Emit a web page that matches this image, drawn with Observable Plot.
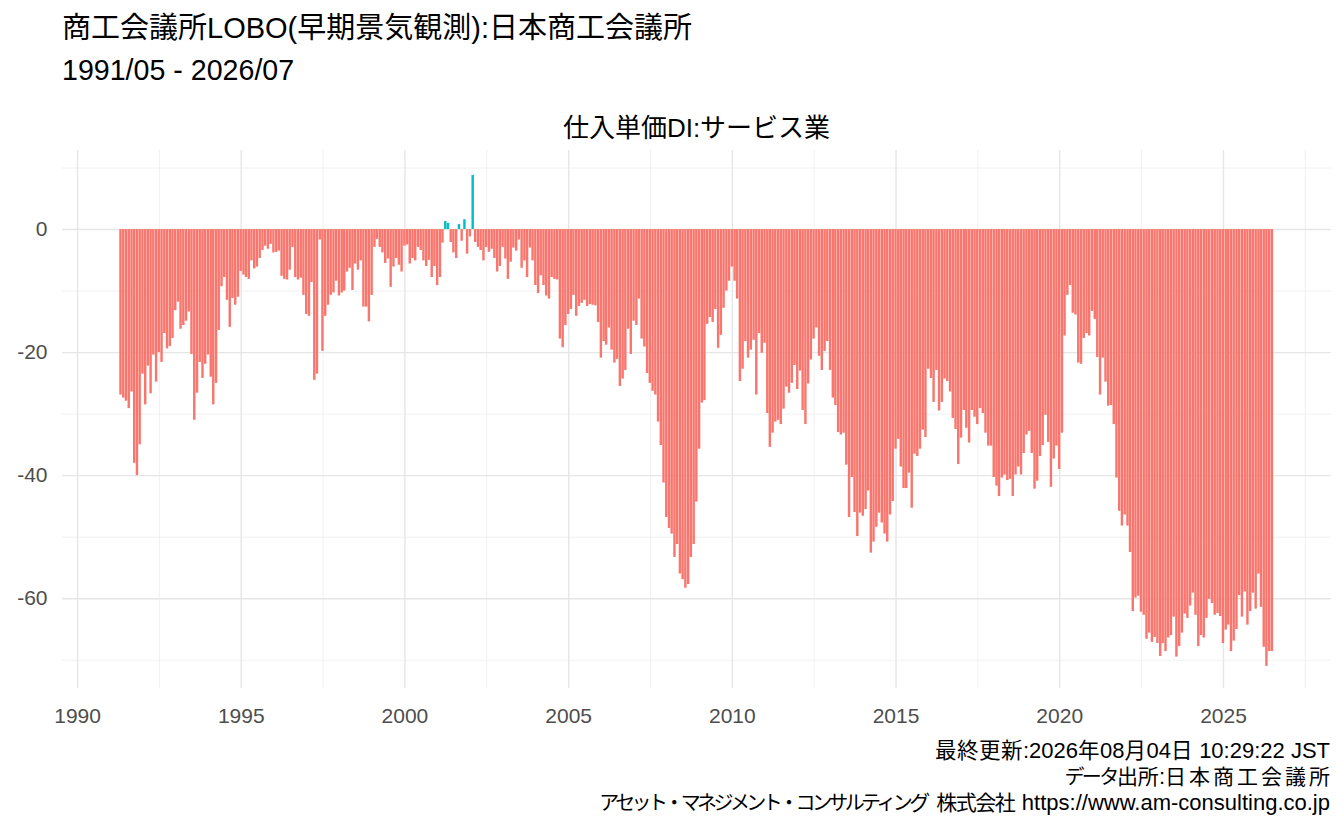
<!DOCTYPE html>
<html><head><meta charset="utf-8">
<script src="https://cdn.jsdelivr.net/npm/d3@7"></script>
<script src="https://cdn.jsdelivr.net/npm/@observablehq/plot@0.6"></script>
<style>
body{margin:0;background:#fff;font-family:"Liberation Sans","Noto Sans CJK JP",sans-serif;}
#wrap{position:relative;width:1344px;height:830px;overflow:hidden;}
.t{position:absolute;white-space:nowrap;line-height:1;color:#000;}
.k{font-size:21.5px;letter-spacing:0.5px;}
.kn{font-size:20px;letter-spacing:-3.6px;}
.kd{font-size:20px;letter-spacing:-2.5px;}
.ks{font-size:21px;letter-spacing:3px;}
.kc{font-size:21px;letter-spacing:-1.5px;}
.kp{font-size:21px;}
</style></head><body>
<div id="wrap">
<div class="t" style="left:62px;top:14px;font-size:29px;">商工会議所LOBO(早期景気観測):日本商工会議所</div>
<div class="t" style="left:62px;top:56px;font-size:28.6px;">1991/05 - 2026/07</div>
<div class="t" style="left:62px;width:1269px;text-align:center;top:115px;font-size:26px;">仕入単価DI:サービス業</div>
<div id="chart" style="position:absolute;left:0;top:140px;"></div>
<div class="t" style="right:14px;top:738px;font-size:22px;line-height:26px;text-align:right;"><span class="k">最終更新</span>:2026<span class="k">年</span>08<span class="k">月</span>04<span class="k">日</span> 10:29:22 JST<br><span class="kd">データ</span><span class="kp">出所</span>:<span class="ks">日本商工会議</span><span class="kp">所</span><br><span class="kn">アセット・マネジメント・コンサルティン</span><span class="kp">グ</span> <span class="kc">株式会</span><span class="kp">社</span> https://www.am-consulting.co.jp</div>
</div>
<script>
const startYear = 1991, startMonth = 5;
const values = [
-26.9,-27.4,-27.9,-29.1,-26.4,-38,-40,-35,-23.5,-28.5,
-22.2,-26.7,-20.4,-24.8,-20,-21.6,-16.9,-19.4,-19,-17.7,
-13.2,-11.8,-16.2,-15.6,-14.9,-13.4,-20.3,-31,-26.6,-21.6,
-24.2,-21.9,-20.4,-24,-28.5,-25,-16.4,-9.3,-7.8,-11.5,
-15.9,-11.2,
-12.3,-11,-6.8,-7.4,-7.8,-8.1,-5.1,-6.4,-6.1,-4.7,
-3.4,-2.7,-3.2,-2.4,-3.8,-3.7,-3.5,-7.6,-8.1,-8.2,
-6.6,-2.9,-7.8,-8.2,-7.9,-10.7,-13.8,-14.1,-8.6,-24.5,
-23.5,-1.7,-19.8,-14.1,-12.3,-10.7,-10.3,-8.4,-10.8,-10.3,
-10,-6.9,-6.3,
-9.9,-5.6,-6.6,-5.1,-12.6,-12.6,-15,-10.7,-2.9,-1.6,
-2.9,-3.8,-5.5,-4.8,-9.4,-6.1,-4.7,-5.8,-6.9,-2.7,
-2.5,-5.6,-4.7,-5.1,-2.9,-3.4,-5.1,-6,-5,-7.8,
-6,-9.1,-7.8,-2.2,1.3,1.0,-2.1,-3.8,-4.7,0.8,
-1.9,1.6,-4,
-1.2,8.8,-2.1,-2.9,-3.4,-5.1,-2.9,-3.7,-3.2,-4.7,
-6.9,-6,-2.9,-4.8,-8.1,-5.3,-3,-3.5,-1.7,-6.3,
-5.1,-7.8,-3,-5.1,-9.1,-10.4,-7.5,-9.1,-10.8,-11.3,
-7.8,-8.1,-8.2,-17.8,-19.2,-15.6,-13.8,-13,-10.7,-14.1,
-12.5,-12,-11.5,-12.5,
-12.2,-12.3,-12.4,-15.1,-20.9,-18.2,-18.8,-16,-19.6,-21.7,
-21.1,-25.5,-24.3,-22.9,-16.2,-20.3,-14.9,-15.6,-11.3,-17.8,
-19.1,-23.4,-25,-26.3,-26.9,-31.3,-35.1,-41.2,-46.8,-48.6,
-49.5,-53.3,-51.2,-56,-56.9,-58.3,-57.7,-53.3,-51.2,-44.3,
-35.7,-28.2,-27.8,
-15.4,-14.3,-15.1,-13,-19.3,-17.2,-12.8,-10,-8.4,-6.1,
-8.4,-11.3,-24.7,-22.7,-18.2,-20.9,-19.6,-18,-26.9,-16.9,
-20.1,-18.5,-29.9,-35.4,-33.1,-31.3,-31,-31.7,-29.2,-25.6,
-26.6,-25,-22.1,-26,-23,-29.4,-31.7,-25.1,-21.2,-17.8,
-16,-20.6,-22.9,
-19.8,-18.2,-22.9,-27.4,-28.6,-33,-33.4,-33.1,-38.3,-46.8,
-40.3,-46,-49.9,-46.1,-46.6,-45.5,-42.5,-52.6,-50.8,-48.4,
-46.1,-47.7,-49.5,-50.8,-46.4,-44.2,-35.7,-34.1,-38.6,-42.1,
-42.1,-39.6,-45.3,-36.5,-36.9,-35.7,-32.6,-33.8,-22.7,-24.2,
-28.1,-22.9,-29.5,-28.1,
-24.3,-24.7,-26.4,-30.7,-32.5,-38.2,-33.9,-29.4,-32.3,-34.7,
-29.4,-30.5,-31.7,-29.1,-29.9,-33.1,-35.2,-35.2,-40.3,-41.7,
-43.4,-40.4,-39.9,-40.8,-40.6,-43.4,-39.9,-38.6,-39.9,-36.4,
-33.4,-32.8,-36.4,-42.2,-40.9,-36.9,-35.1,-30.2,-34.6,-41.9,
-37.3,-35.2,-39,
-33.1,-17.3,-10.7,-9.1,-13.6,-13.9,-21.7,-21.9,-17.7,-16.9,
-17.3,-13.3,-14.6,-20.8,-26.9,-20.9,-24.8,-28.7,-28.6,-31.7,
-40.4,-45.8,-48.2,-46.4,-48.2,-52.5,-62.1,-59.9,-59.6,-62.2,
-62.7,-66.6,-65.6,-67.1,-66.3,-67.3,-69.4,-67.3,-68.6,-66.4,
-66,-63,-69.5,
-67.8,-65.6,-62.5,-63.2,-61.2,-59.1,-62.7,-67.8,-66,-66.4,
-63.2,-60.1,-60.8,-62.7,-62.4,-62.9,-67.3,-65.1,-64.3,-68.6,
-66.9,-65,-59.5,-63,-58.9,-64.3,-62.1,-59.1,-61.7,-56,
-61.4,-67.9,-71,-68.6,-68.6
];
const xTickYears = [1990,1995,2000,2005,2010,2015,2020,2025];
const xMinorYears = [1992,1997,2002,2007,2012,2017,2022,2027];
const yTicks = [0,-20,-40,-60];
const yMinor = [10,-10,-30,-50,-70];

const data = values.map((v,i)=>({date:new Date(Date.UTC(startYear,startMonth-1+i,1)),value:v,sign:v>=0?"pos":"neg"}));
const majorDates = xTickYears.map(y=>new Date(Date.UTC(y,0,1)));
const minorDates = xMinorYears.map(y=>new Date((Date.UTC(y-2,0,1)+Date.UTC(y+3,0,1))/2));

const chart = Plot.plot({
  width:1344, height:590,
  marginLeft:62, marginRight:13, marginTop:10, marginBottom:42,
  style:{fontFamily:'"Liberation Sans","Noto Sans CJK JP",sans-serif',fontSize:"21px",color:"#4d4d4d",background:"#fff"},
  x:{type:"utc",domain:[new Date(Date.UTC(1989,6,17)),new Date(Date.UTC(2028,3,20))],ticks:majorDates,tickFormat:d3.utcFormat("%Y"),tickSize:0,tickPadding:20,label:null},
  y:{domain:[-74.6,12.85],ticks:yTicks,tickFormat:d=>String(d),tickSize:0,tickPadding:15,label:null},
  color:{domain:["neg","pos"],range:["#F8766D","#00BFC4"]},
  marks:[
    Plot.ruleX(minorDates,{stroke:"#ebebeb",strokeWidth:0.7}),
    Plot.ruleY(yMinor,{stroke:"#ebebeb",strokeWidth:0.7}),
    Plot.ruleX(majorDates,{stroke:"#e6e6e6",strokeWidth:1.4}),
    Plot.ruleY(yTicks,{stroke:"#e6e6e6",strokeWidth:1.4}),
    Plot.rectY(data,{x1:d=>d3.utcDay.offset(d.date,-13.5),x2:d=>d3.utcDay.offset(d.date,13.5),y:"value",fill:"sign"})
  ]
});
document.getElementById("chart").appendChild(chart);
</script>
</body></html>
